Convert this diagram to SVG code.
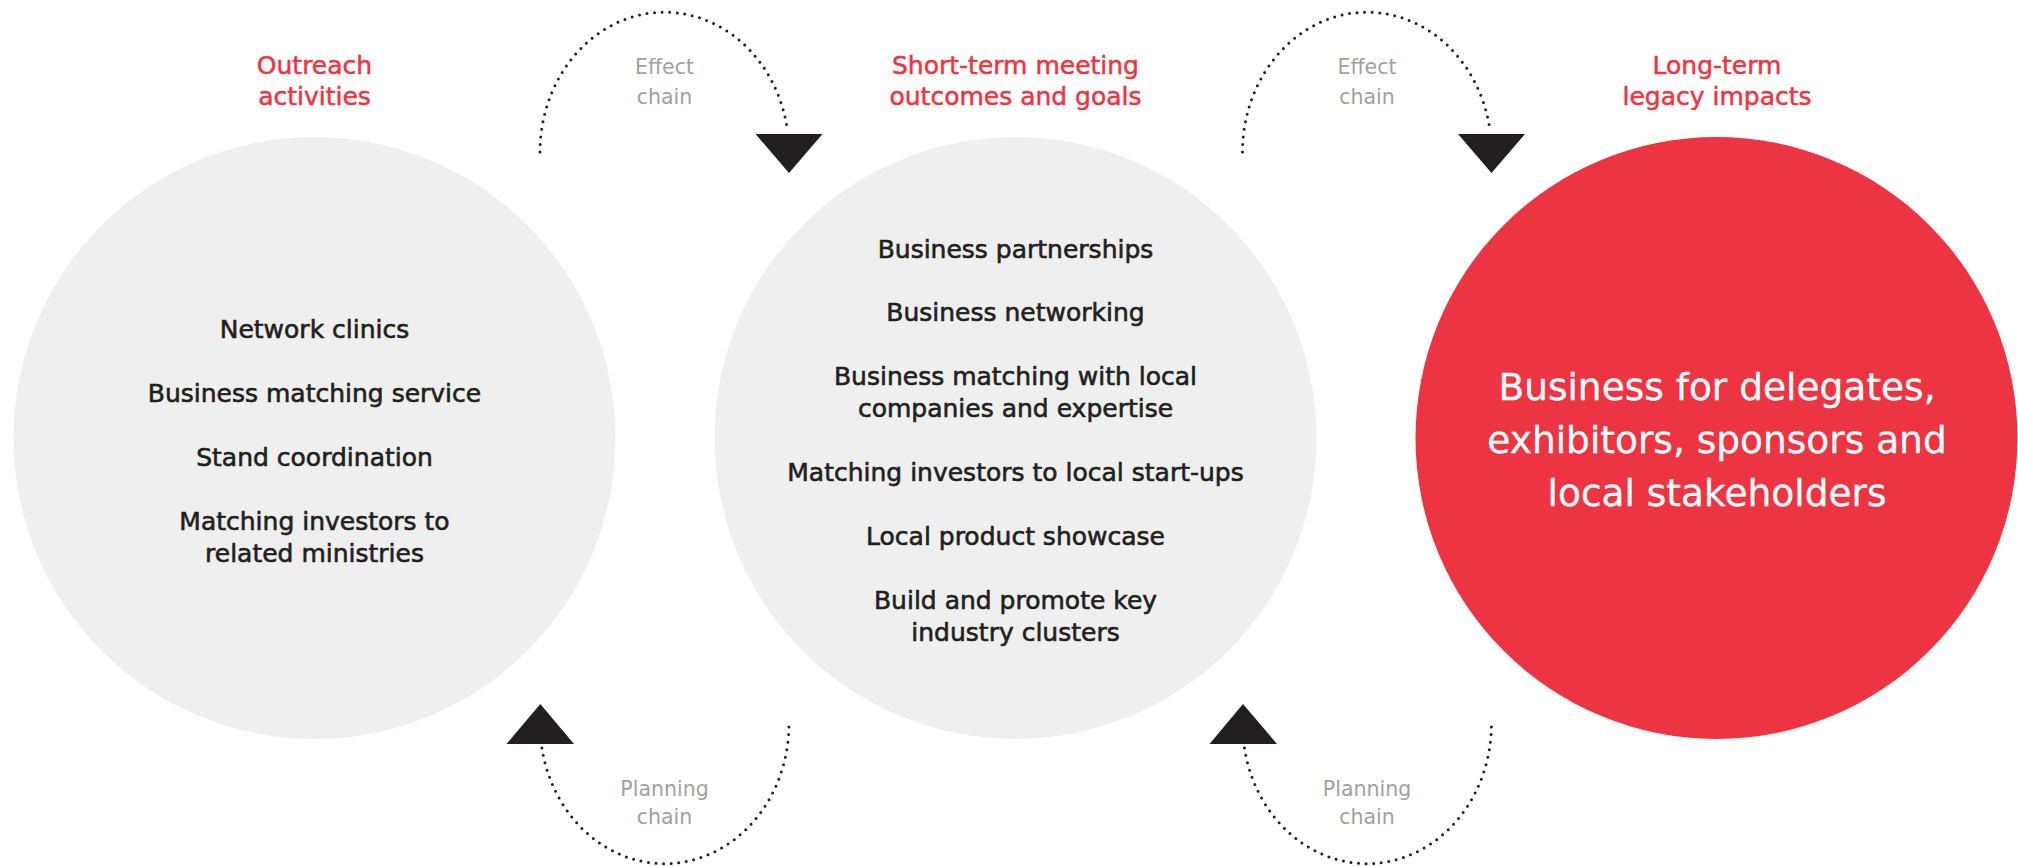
<svg xmlns="http://www.w3.org/2000/svg" width="2018" height="866" viewBox="0 0 2018 866">
  <style>
    .bg { fill: #ffffff; }
    .gray { fill: #eeefee; }
    .red { fill: #ed3443; }
    .item { font-family: "DejaVu Sans", "Liberation Sans", sans-serif; font-size: 25px; fill: #231f20; stroke: #231f20; stroke-width: 0.6; text-anchor: middle; }
    .head { font-family: "DejaVu Sans", "Liberation Sans", sans-serif; font-size: 25px; fill: #ed3443; stroke: #ed3443; stroke-width: 0.5; text-anchor: middle; }
    .big { font-family: "DejaVu Sans", "Liberation Sans", sans-serif; font-size: 37.5px; fill: #ffffff; stroke: #ffffff; stroke-width: 0.3; text-anchor: middle; }
    .lbl { font-family: "DejaVu Sans", "Liberation Sans", sans-serif; font-size: 20.5px; fill: #a0a1a1; text-anchor: middle; }
    .dots { fill: none; stroke: #231f20; stroke-width: 3; stroke-linecap: round; stroke-dasharray: 0 7.6; }
    .arrow { fill: #231f20; }
  </style>
  <rect class="bg" x="0" y="0" width="2018" height="866"/>

  <g id="node-outreach">
    <circle class="gray" cx="314.5" cy="438" r="301"/>
    <text class="head" x="314.5" y="74">Outreach</text>
    <text class="head" x="314.5" y="105">activities</text>
    <text class="item" x="314.5" y="338">Network clinics</text>
    <text class="item" x="314.5" y="402">Business matching service</text>
    <text class="item" x="314.5" y="466">Stand coordination</text>
    <text class="item" x="314.5" y="530">Matching investors to</text>
    <text class="item" x="314.5" y="562">related ministries</text>
  </g>

  <g id="node-short-term">
    <circle class="gray" cx="1015.5" cy="438" r="301"/>
    <text class="head" x="1015.5" y="74">Short-term meeting</text>
    <text class="head" x="1015.5" y="105">outcomes and goals</text>
    <text class="item" x="1015.5" y="258">Business partnerships</text>
    <text class="item" x="1015.5" y="321">Business networking</text>
    <text class="item" x="1015.5" y="385">Business matching with local</text>
    <text class="item" x="1015.5" y="417">companies and expertise</text>
    <text class="item" x="1015.5" y="481">Matching investors to local start-ups</text>
    <text class="item" x="1015.5" y="545">Local product showcase</text>
    <text class="item" x="1015.5" y="609">Build and promote key</text>
    <text class="item" x="1015.5" y="641">industry clusters</text>
  </g>

  <g id="node-long-term">
    <circle class="red" cx="1716.5" cy="438" r="301"/>
    <text class="head" x="1717" y="74">Long-term</text>
    <text class="head" x="1717" y="105">legacy impacts</text>
    <text class="big" x="1717" y="400">Business for delegates,</text>
    <text class="big" x="1717" y="453">exhibitors, sponsors and</text>
    <text class="big" x="1717" y="506">local stakeholders</text>
  </g>

  <g id="connectors">
    <path class="dots" d="M 540 152 A 124.5 140 0 0 1 787.7 132"/>
    <polygon class="arrow" points="755.5,134 822.5,134 789,173"/>
    <text class="lbl" x="664.5" y="74">Effect</text>
    <text class="lbl" x="664.5" y="103.5">chain</text>

    <path class="dots" d="M 1242.5 152 A 124.5 140 0 0 1 1490.2 132"/>
    <polygon class="arrow" points="1458,134 1525,134 1491.5,173"/>
    <text class="lbl" x="1367" y="74">Effect</text>
    <text class="lbl" x="1367" y="103.5">chain</text>

    <path class="dots" d="M 541.9 748 A 124.5 140 0 0 0 789 724"/>
    <polygon class="arrow" points="506.5,744 574,744 540.3,704"/>
    <text class="lbl" x="664.5" y="796">Planning</text>
    <text class="lbl" x="664.5" y="824">chain</text>

    <path class="dots" d="M 1244.4 748 A 124.5 140 0 0 0 1491.5 724"/>
    <polygon class="arrow" points="1209.5,744 1277,744 1243,704"/>
    <text class="lbl" x="1367" y="796">Planning</text>
    <text class="lbl" x="1367" y="824">chain</text>
  </g>
</svg>
